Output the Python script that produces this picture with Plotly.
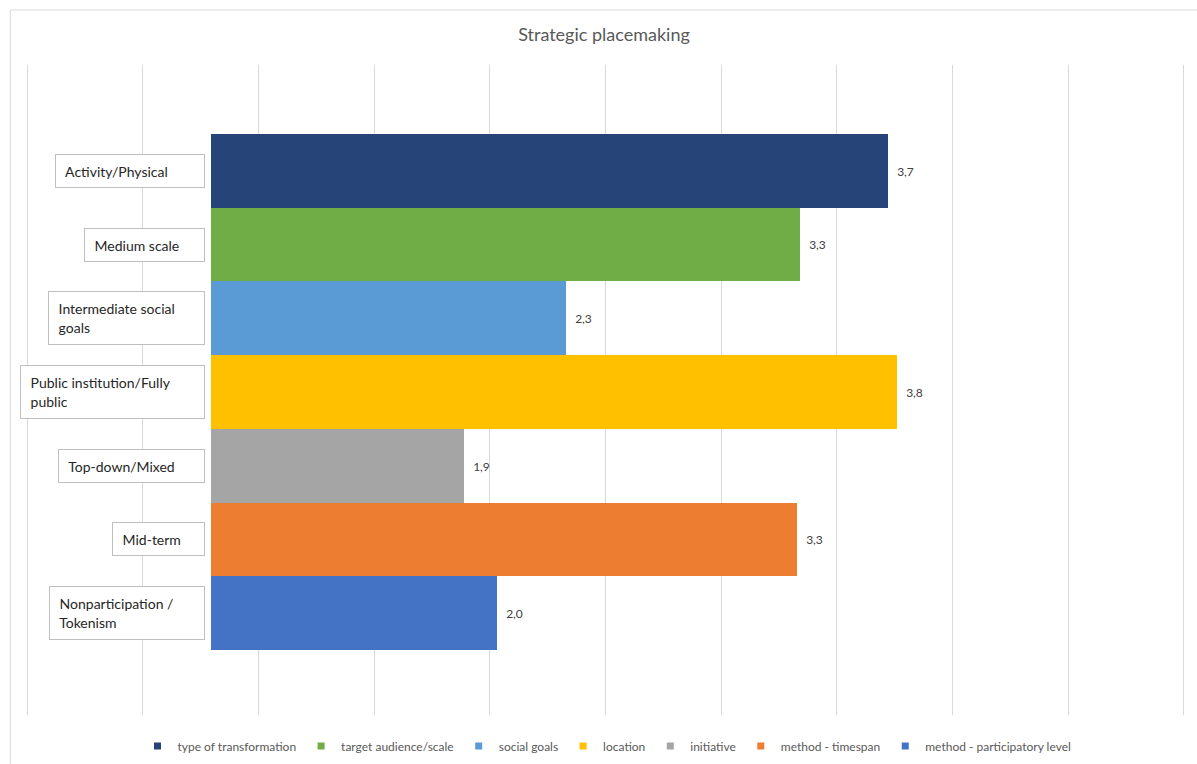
import plotly.graph_objects as go

# ---- data ----
categories = [
    "Activity/Physical",
    "Medium scale",
    "Intermediate social<br>goals",
    "Public institution/Fully<br>public",
    "Top-down/Mixed",
    "Mid-term",
    "Nonparticipation /<br>Tokenism",
]
series_names = [
    "type of transformation",
    "target audience/scale",
    "social goals",
    "location",
    "initiative",
    "method - timespan",
    "method - participatory level",
]
values = [3.72, 3.34, 2.33, 3.76, 1.89, 3.33, 2.03]
OFFSET = 0.795  # invisible leading segment (left of each bar)

# ---- styles ----
colors = ["#264478", "#70AD47", "#5B9BD5", "#FFC000", "#A5A5A5", "#ED7D31", "#4472C4"]
box_w = [150, 121, 157, 185, 147, 93, 156]
box_h = [34, 34, 54, 54, 34, 34, 54]
FONT = "Lato"

W, H = 1197, 764
UNIT = 231.4            # px per axis unit
XMIN, XMAX = -0.01, 5.01
ML = 27 + XMIN * UNIT
PW = (XMAX - XMIN) * UNIT
MR = W - ML - PW
MT, MB = 65, 49
PH = H - MT - MB
BAR_PX = 73.7
Y_TOP = -(170.9 - MT) / BAR_PX
Y_BOT = 6 + (MT + PH - 613.1) / BAR_PX


def px_to_x(px):
    return XMIN + (px - ML) / UNIT


fig = go.Figure()
for cat, name, v, c in zip(categories, series_names, values, colors):
    fig.add_trace(go.Bar(
        y=[cat], x=[v - OFFSET], base=[OFFSET], orientation="h",
        marker=dict(color=c, line=dict(width=0)),
        width=1.0,
        text=["\u00a0\u00a0" + f"{v:.1f}".replace(".", ",")],
        textposition="outside", cliponaxis=False, constraintext="none",
        textfont=dict(family=FONT, size=12, color="#404040"),
        name=name, showlegend=False, legendgroup=name,
    ))
    # legend proxy with small square marker
    fig.add_trace(go.Scatter(
        x=[None], y=[None], mode="markers",
        marker=dict(symbol="square", size=7, color=c),
        name=name, legendgroup=name, showlegend=True,
    ))

# category label boxes
for cat, bw, bh in zip(categories, box_w, box_h):
    pad = 6
    label = "\u00a0" + cat.replace("<br>", "<br>\u00a0")
    fig.add_annotation(
        x=px_to_x(205), xref="x", y=cat, yref="y",
        xanchor="right", yanchor="middle",
        text=label, showarrow=False, align="left", valign="middle",
        width=bw - 2 * pad - 2, height=bh - 2 * pad - 2,
        borderpad=pad, bordercolor="#bfbfbf", borderwidth=1, bgcolor="white",
        font=dict(family=FONT, size=14, color="#262626"),
    )

# outer chart border
fig.add_shape(
    type="rect", xref="paper", yref="paper",
    x0=(10 - ML) / PW, x1=1.05, y0=-0.2, y1=1 + (MT - 10) / PH,
    line=dict(color="#d9d9d9", width=1), fillcolor="rgba(0,0,0,0)", layer="below",
)

fig.update_layout(
    width=W, height=H,
    margin=dict(l=ML, r=MR, t=MT, b=MB, autoexpand=False),
    paper_bgcolor="white", plot_bgcolor="white",
    barmode="overlay", bargap=0,
    title=dict(text="Strategic placemaking", x=604 / W, xanchor="center",
               y=1 - 35 / H, yanchor="middle",
               font=dict(family=FONT, size=18, color="#595959")),
    xaxis=dict(range=[XMIN, XMAX], tick0=0, dtick=0.5, showticklabels=False,
               showgrid=True, gridcolor="#d9d9d9", gridwidth=1,
               zeroline=True, zerolinecolor="#d9d9d9", zerolinewidth=1,
               showline=False, ticks="", fixedrange=True),
    yaxis=dict(type="category", categoryorder="array", categoryarray=categories,
               range=[Y_BOT, Y_TOP], showticklabels=False, showgrid=False,
               zeroline=False, showline=False, ticks=""),
    legend=dict(orientation="h", x=(607 - ML) / PW, xanchor="center",
                y=(715 - 746) / PH, yanchor="middle",
                font=dict(family=FONT, size=12, color="#595959"),
                itemwidth=30, tracegroupgap=0, bgcolor="rgba(0,0,0,0)"),
    font=dict(family=FONT),
    showlegend=True,
)

fig.write_html("out.html", config={"displayModeBar": False},
               post_script="document.body.style.margin='0px';")
